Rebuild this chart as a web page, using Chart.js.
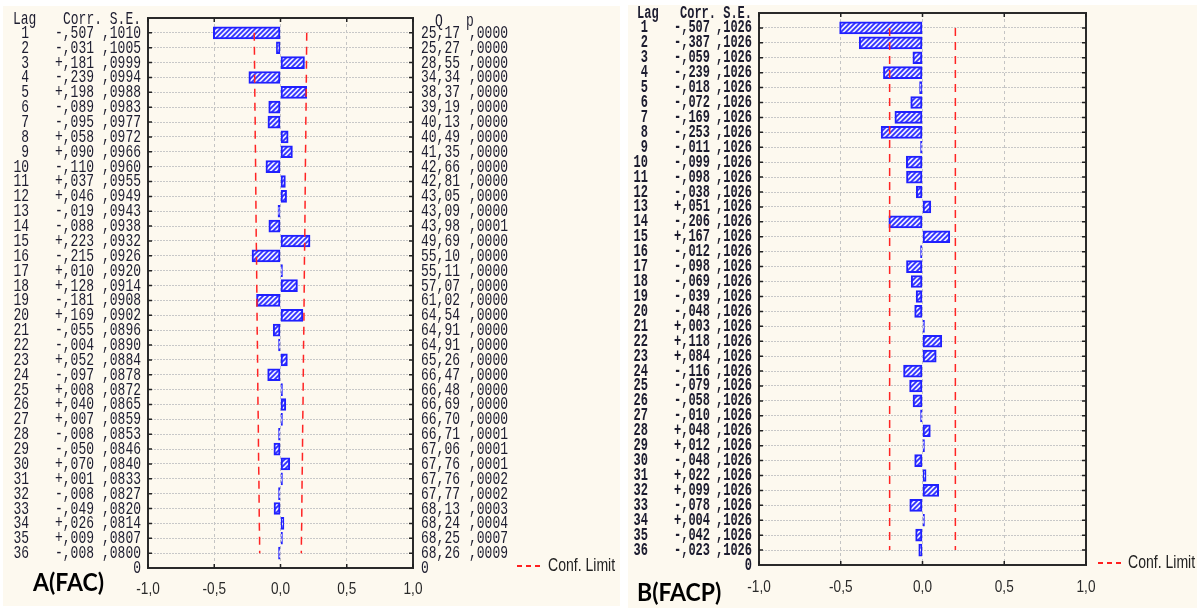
<!DOCTYPE html>
<html><head><meta charset="utf-8">
<script src="https://cdn.jsdelivr.net/npm/chart.js@4.4.1/dist/chart.umd.min.js"></script>
<style>
html,body{margin:0;padding:0;background:#fff;width:1197px;height:608px;overflow:hidden}
.panel{position:absolute;background:#fdf9ef}
#pa{left:3px;top:6px;width:617px;height:600px}
#pb{left:628px;top:5px;width:569px;height:603px}
canvas{display:block}
</style></head><body>
<div class="panel" id="pa"><canvas id="ca" width="617" height="600"></canvas></div>
<div class="panel" id="pb"><canvas id="cb" width="569" height="603"></canvas></div>
<script>
// ---- data ----
const lags = [1,2,3,4,5,6,7,8,9,10,11,12,13,14,15,16,17,18,19,20,21,22,23,24,25,26,27,28,29,30,31,32,33,34,35,36];
const acfCorr = [-0.507,-0.031,0.181,-0.239,0.198,-0.089,-0.095,0.058,0.090,-0.110,0.037,0.046,-0.019,-0.088,0.223,-0.215,0.010,0.128,-0.181,0.169,-0.055,-0.004,0.052,-0.097,0.008,0.040,0.007,-0.008,-0.050,0.070,0.001,-0.008,-0.049,0.026,0.009,-0.008];
const acfSE = [0.1010,0.1005,0.0999,0.0994,0.0988,0.0983,0.0977,0.0972,0.0966,0.0960,0.0955,0.0949,0.0943,0.0938,0.0932,0.0926,0.0920,0.0914,0.0908,0.0902,0.0896,0.0890,0.0884,0.0878,0.0872,0.0865,0.0859,0.0853,0.0846,0.0840,0.0833,0.0827,0.0820,0.0814,0.0807,0.0800];
const acfQ = [25.17,25.27,28.55,34.34,38.37,39.19,40.13,40.49,41.35,42.66,42.81,43.05,43.09,43.98,49.69,55.10,55.11,57.07,61.02,64.54,64.91,64.91,65.26,66.47,66.48,66.69,66.70,66.71,67.06,67.76,67.76,67.77,68.13,68.24,68.25,68.26];
const acfP = [0,0,0,0,0,0,0,0,0,0,0,0,0,0.0001,0,0,0,0,0,0,0,0,0,0,0,0,0,0.0001,0.0001,0.0001,0.0002,0.0002,0.0003,0.0004,0.0007,0.0009];
const acfConf = [0.198,0.197,0.196,0.195,0.194,0.193,0.191,0.191,0.189,0.188,0.187,0.186,0.185,0.184,0.183,0.181,0.180,0.179,0.178,0.177,0.176,0.174,0.173,0.172,0.171,0.170,0.168,0.167,0.166,0.165,0.163,0.162,0.161,0.160,0.158,0.157];
const pacfCorr = [-0.507,-0.387,-0.059,-0.239,-0.018,-0.072,-0.169,-0.253,-0.011,-0.099,-0.098,-0.038,0.051,-0.206,0.167,-0.012,-0.098,-0.069,-0.039,-0.048,0.003,0.118,0.084,-0.116,-0.079,-0.058,-0.010,0.048,0.012,-0.048,0.022,0.099,-0.078,0.004,-0.042,-0.023];
const pacfSE = [0.1026,0.1026,0.1026,0.1026,0.1026,0.1026,0.1026,0.1026,0.1026,0.1026,0.1026,0.1026,0.1026,0.1026,0.1026,0.1026,0.1026,0.1026,0.1026,0.1026,0.1026,0.1026,0.1026,0.1026,0.1026,0.1026,0.1026,0.1026,0.1026,0.1026,0.1026,0.1026,0.1026,0.1026,0.1026,0.1026];
const pacfConf = [0.201,0.201,0.201,0.201,0.201,0.201,0.201,0.201,0.201,0.201,0.201,0.201,0.201,0.201,0.201,0.201,0.201,0.201,0.201,0.201,0.201,0.201,0.201,0.201,0.201,0.201,0.201,0.201,0.201,0.201,0.201,0.201,0.201,0.201,0.201,0.201];
const xTicks = [-1, -0.5, 0, 0.5, 1];
const titleA = 'A(FAC)', titleB = 'B(FACP)', legendLabel = 'Conf. Limit';

// ---- helpers ----
const fmtCorr = v => (v < 0 ? '-' : '+') + ',' + Math.abs(v).toFixed(3).split('.')[1];
const fmtSE = v => ',' + v.toFixed(4).split('.')[1];
const fmtQ = v => v.toFixed(2).replace('.', ',');
const fmtTick = v => v.toFixed(1).replace('.', ',');

function hatch() {
  const c = document.createElement('canvas'); c.width = 5; c.height = 5;
  const g = c.getContext('2d');
  g.fillStyle = '#eeeeff'; g.fillRect(0, 0, 5, 5);
  g.strokeStyle = '#3030ff'; g.lineWidth = 1.8;
  g.beginPath();
  g.moveTo(-1, 6); g.lineTo(6, -1);
  g.moveTo(-1, 1); g.lineTo(1, -1);
  g.moveTo(4, 6); g.lineTo(6, 4);
  g.stroke();
  return g.createPattern(c, 'repeat');
}

function stretchText(ctx, txt, x, y, align, font, sx, sy) {
  ctx.save();
  ctx.font = font; ctx.textAlign = align; ctx.textBaseline = 'middle';
  ctx.translate(x, y); ctx.scale(sx, sy);
  ctx.fillText(txt, 0, 0);
  ctx.restore();
}

function makeChart(id, L) {
  const decor = {
    id: 'decor',
    afterDraw(chart) {
      const ctx = chart.ctx, ys = chart.scales.y, xs = chart.scales.x, a = chart.chartArea;
      ctx.save();
      // border
      ctx.strokeStyle = '#2a2a2a'; ctx.lineWidth = 2;
      ctx.strokeRect(a.left, a.top, a.right - a.left, a.bottom - a.top);
      // tick marks
      ctx.lineWidth = 1.5; ctx.strokeStyle = '#222';
      ctx.beginPath();
      lags.forEach(l => {
        const y = ys.getPixelForValue(l);
        ctx.moveTo(a.left, y); ctx.lineTo(a.left + 4, y);
        ctx.moveTo(a.right - 4, y); ctx.lineTo(a.right, y);
      });
      xTicks.forEach(v => {
        const x = xs.getPixelForValue(v);
        ctx.moveTo(x, a.top); ctx.lineTo(x, a.top + 4);
        ctx.moveTo(x, a.bottom); ctx.lineTo(x, a.bottom - 4);
      });
      ctx.stroke();
      // x tick labels
      ctx.fillStyle = '#2a2a2a';
      xTicks.forEach(v => stretchText(ctx, fmtTick(v), xs.getPixelForValue(v), L.tickY, 'center', '17px "Liberation Sans"', 0.8, 1));
      // text columns
      ctx.fillStyle = '#1d1d30';
      const f = L.monoFont;
      stretchText(ctx, 'Lag', L.lagHeadX, L.headY, 'left', f, 1, L.sy);
      stretchText(ctx, 'Corr. S.E.', L.seX, L.headY, 'right', f, 1, L.sy);
      lags.forEach((l, i) => {
        const y = ys.getPixelForValue(l);
        stretchText(ctx, String(l), L.lagX, y, 'right', f, 1, L.sy);
        stretchText(ctx, fmtCorr(L.corr[i]), L.corrX, y, 'right', f, 1, L.sy);
        stretchText(ctx, fmtSE(L.se[i]), L.seX, y, 'right', f, 1, L.sy);
        if (L.q) {
          stretchText(ctx, fmtQ(L.q[i]), L.qX, y, 'right', f, 1, L.sy);
          stretchText(ctx, fmtSE(L.p[i]), L.pX, y, 'right', f, 1, L.sy);
        }
      });
      const yb = ys.getPixelForValue(37);
      stretchText(ctx, '0', L.seX, yb, 'right', f, 1, L.sy);
      if (L.q) {
        stretchText(ctx, 'Q', L.qHeadX, L.headY + 2, 'center', f, 1, L.sy);
        stretchText(ctx, 'p', L.pHeadX, L.headY + 2, 'center', f, 1, L.sy);
        stretchText(ctx, '0', L.q0X, yb, 'left', f, 1, L.sy);
      }
      // title
      ctx.fillStyle = '#000';
      stretchText(ctx, L.title, L.titleX, L.titleY, 'left', 'bold 23px Lato', 1, 1.05);
      // legend
      ctx.strokeStyle = '#ff2020'; ctx.lineWidth = 2; ctx.setLineDash([5, 4]);
      ctx.beginPath(); ctx.moveTo(L.legX1, L.legY); ctx.lineTo(L.legX2, L.legY); ctx.stroke();
      ctx.setLineDash([]);
      ctx.fillStyle = '#222';
      stretchText(ctx, legendLabel, L.legTextX, L.legY, 'left', '18px "Liberation Sans"', 0.78, 1);
      ctx.restore();
    }
  };
  const conf = L.conf;
  return new Chart(document.getElementById(id), {
    type: 'bar',
    data: {
      datasets: [
        { type: 'bar', data: lags.map((l, i) => ({ x: L.corr[i], y: l })),
          backgroundColor: hatch(), borderColor: '#2020ff', borderWidth: 2,
          borderSkipped: false, barThickness: 12, minBarLength: 2, order: 2 },
        { type: 'line', data: lags.map((l, i) => ({ x: conf[i], y: l })),
          borderColor: '#ff2424', borderWidth: 1.5, borderDash: [8, 6], pointRadius: 0, fill: false, order: 1 },
        { type: 'line', data: lags.map((l, i) => ({ x: -conf[i], y: l })),
          borderColor: '#ff2424', borderWidth: 1.5, borderDash: [8, 6], pointRadius: 0, fill: false, order: 1 }
      ]
    },
    options: {
      indexAxis: 'y',
      responsive: false, animation: false, events: [], devicePixelRatio: 1,
      layout: { padding: L.pad },
      plugins: { legend: { display: false }, tooltip: { enabled: false } },
      scales: {
        x: { type: 'linear', min: -1, max: 1,
             afterBuildTicks: s => { s.ticks = xTicks.map(v => ({ value: v })); },
             ticks: { display: false },
             grid: { drawTicks: false, lineWidth: 1,
                     color: c => (c.tick && Math.abs(c.tick.value) < 0.9) ? '#c4c4c4' : 'rgba(0,0,0,0)' },
             border: { display: false, dash: [3, 3] },
             afterFit: s => { s.height = 0; } },
        y: { type: 'linear', min: 0, max: 37, reverse: true, offset: false,
             afterBuildTicks: s => { s.ticks = lags.map(v => ({ value: v })); },
             ticks: { display: false },
             grid: { drawTicks: false, offset: false, lineWidth: 1, color: '#c8c8c8' },
             border: { display: false, dash: [2, 1] },
             afterFit: s => { s.width = 0; } }
      }
    },
    plugins: [decor]
  });
}

makeChart('ca', {
  corr: acfCorr, se: acfSE, q: acfQ, p: acfP, conf: acfConf,
  pad: { left: 145, top: 12, right: 207, bottom: 38 },
  monoFont: '13px "Liberation Mono"', sy: 1.45,
  headY: 13, lagHeadX: 10, lagX: 26, corrX: 91, seX: 138, qX: 457, pX: 505,
  qHeadX: 436, pHeadX: 467, q0X: 418,
  tickY: 583, title: titleA, titleX: 30, titleY: 577,
  legX1: 514, legX2: 540, legY: 560, legTextX: 545
});
makeChart('cb', {
  corr: pacfCorr, se: pacfSE, conf: pacfConf,
  pad: { left: 131, top: 8, right: 111, bottom: 43 },
  monoFont: 'bold 12px "Liberation Mono"', sy: 1.5,
  headY: 8, lagHeadX: 9, lagX: 20, corrX: 82, seX: 124,
  tickY: 582, title: titleB, titleX: 9, titleY: 588,
  legX1: 470, legX2: 493, legY: 558, legTextX: 500
});
</script>
</body></html>
